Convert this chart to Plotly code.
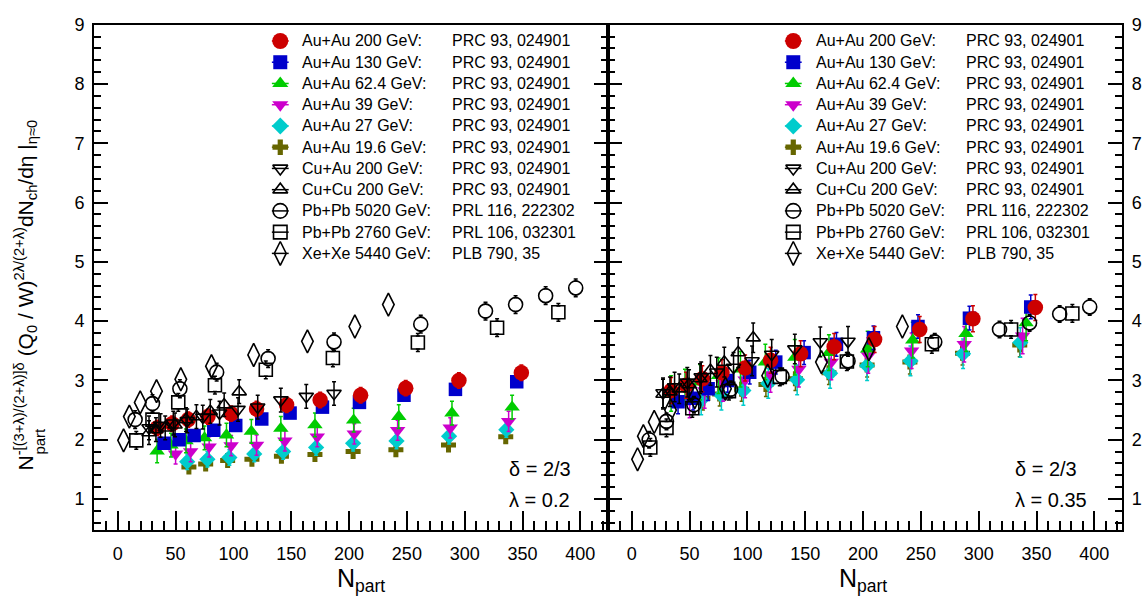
import plotly.graph_objects as go

W, H = 1142, 602

# ---------------- data ----------------
# N_part values per system (shared by both panels)
au200_np = [349, 295, 249, 210, 175, 146, 120, 98, 78, 61, 47, 34]
au130_np = [345, 292, 247.5, 209, 177, 149, 124.5, 102, 83, 66, 53, 40]
au62_np = [341, 289, 243, 204, 170.5, 141, 115.5, 94, 75, 59, 46, 34]
au39_np = [338, 287.5, 242, 204.5, 172.5, 144.5, 120, 98, 79, 63, 50]
au27_np = [336, 286.5, 241, 203.5, 171.5, 143, 118, 96.5, 77.5, 60]
au19_np = [335.5, 286, 240.5, 203.5, 170.5, 141.5, 116, 95, 76, 61.5]
cuau_np = [187, 163, 141, 121, 104, 88, 73.5, 60, 48, 37, 27]
cucu_np = [105, 92, 80, 68, 59, 49.5, 41, 33, 27]
pb5020_np = [396, 370, 344, 318, 262, 187, 130, 85.5, 53.7, 30, 15]
pb2760_np = [381, 328, 259.5, 186, 128, 84, 52.3, 30, 16]
xexe_np = [234, 205, 164, 117.5, 81, 54.5, 33.5, 19.4, 10, 5]

# left panel (lambda = 0.2)
au200_l = [3.13, 3.00, 2.87, 2.75, 2.67, 2.59, 2.52, 2.44, 2.39, 2.34, 2.27, 2.20]
au130_l = [2.98, 2.85, 2.75, 2.63, 2.55, 2.45, 2.35, 2.24, 2.16, 2.07, 2.00, 1.94]
au62_l = [2.55, 2.45, 2.39, 2.33, 2.25, 2.19, 2.14, 2.08, 2.03, 1.98, 1.91, 1.81]
au39_l = [2.31, 2.20, 2.16, 2.10, 2.05, 1.98, 1.91, 1.90, 1.88, 1.80, 1.76]
au27_l = [2.17, 2.06, 1.98, 1.94, 1.87, 1.80, 1.76, 1.70, 1.67, 1.63]
au19_l = [2.05, 1.91, 1.83, 1.80, 1.75, 1.72, 1.67, 1.65, 1.59, 1.54]
cuau_l = [2.78, 2.73, 2.67, 2.55, 2.51, 2.45, 2.38, 2.32, 2.28, 2.24, 2.20]
cucu_l = [2.81, 2.59, 2.48, 2.39, 2.34, 2.25, 2.20, 2.17, 2.12]
pb5020_l = [4.56, 4.43, 4.28, 4.17, 3.95, 3.65, 3.37, 3.14, 2.86, 2.61, 2.34]
pb2760_l = [4.15, 3.89, 3.64, 3.38, 3.18, 2.92, 2.63, 2.34, 1.99]
xexe_l = [4.28, 3.91, 3.66, 3.43, 3.24, 3.02, 2.82, 2.63, 2.39, 1.99]

# right panel (lambda = 0.35)
au200_r = [4.23, 4.04, 3.86, 3.69, 3.57, 3.45, 3.34, 3.21, 3.13, 3.03, 2.92, 2.83]
au130_r = [4.24, 4.05, 3.91, 3.72, 3.61, 3.47, 3.31, 3.14, 3.00, 2.86, 2.70, 2.64]
au62_r = [3.97, 3.79, 3.68, 3.53, 3.47, 3.39, 3.31, 3.19, 3.08, 2.97, 2.89, 2.78]
au39_r = [3.75, 3.61, 3.50, 3.42, 3.31, 3.19, 3.10, 3.01, 2.95, 2.83, 2.67]
au27_r = [3.64, 3.45, 3.33, 3.25, 3.12, 3.01, 2.95, 2.83, 2.75, 2.67]
au19_r = [3.60, 3.46, 3.31, 3.26, 3.13, 3.03, 2.93, 2.85, 2.77, 2.70]
cuau_r = [3.66, 3.65, 3.53, 3.44, 3.33, 3.22, 3.14, 3.06, 2.97, 2.89, 2.79]
cucu_r = [3.72, 3.47, 3.31, 3.17, 3.03, 2.93, 2.86, 2.81, 2.77]
pb5020_r = [4.24, 4.12, 3.97, 3.86, 3.65, 3.33, 3.07, 2.85, 2.59, 2.31, 2.00]
pb2760_r = [4.13, 3.86, 3.61, 3.32, 3.06, 2.82, 2.53, 2.20, 1.87]
xexe_r = [3.91, 3.53, 3.31, 3.08, 2.86, 2.72, 2.50, 2.30, 2.06, 1.67]

# uncertainties (left, right)
err_l = {"au200": 0.13, "au130": 0.08, "au62": 0.2, "au39": 0.17, "au27": 0.13,
         "au19": 0.1, "cuau": 0.2, "cucu": 0.2, "pb5020": 0.15, "pb2760": 0.15, "xexe": 0.0}
err_r = {"au200": 0.22, "au130": 0.2, "au62": 0.3, "au39": 0.3, "au27": 0.25,
         "au19": 0.2, "cuau": 0.25, "cucu": 0.25, "pb5020": 0.14, "pb2760": 0.15, "xexe": 0.0}

legend_names = ["Au+Au 200 GeV:", "Au+Au 130 GeV:", "Au+Au 62.4 GeV:", "Au+Au 39 GeV:",
                "Au+Au 27 GeV:", "Au+Au 19.6 GeV:", "Cu+Au 200 GeV:", "Cu+Cu 200 GeV:",
                "Pb+Pb 5020 GeV:", "Pb+Pb 2760 GeV:", "Xe+Xe 5440 GeV:"]
legend_refs = ["PRC 93, 024901"] * 8 + ["PRL 116, 222302", "PRL 106, 032301", "PLB 790, 35"]

x_ticks = [0, 50, 100, 150, 200, 250, 300, 350, 400]
y_ticks = [1, 2, 3, 4, 5, 6, 7, 8, 9]

# ---------------- styles ----------------
series = [
    # key, npart, left, right, symbol, color, size
    ("au200", au200_np, au200_l, au200_r, "circle", "#cc0000", 15.5),
    ("au130", au130_np, au130_l, au130_r, "square", "#0000cc", 13.5),
    ("au62", au62_np, au62_l, au62_r, "triangle-up", "#00cc00", 13.5),
    ("au39", au39_np, au39_l, au39_r, "triangle-down", "#cc00cc", 13.5),
    ("au27", au27_np, au27_l, au27_r, "diamond", "#00cccc", 12.5),
    ("au19", au19_np, au19_l, au19_r, "cross", "#666600", 12.5),
    ("cuau", cuau_np, cuau_l, cuau_r, "triangle-down-open", "black", 12.5),
    ("cucu", cucu_np, cucu_l, cucu_r, "triangle-up-open", "black", 12.5),
    ("pb5020", pb5020_np, pb5020_l, pb5020_r, "circle-open", "black", 14),
    ("pb2760", pb2760_np, pb2760_l, pb2760_r, "square-open", "black", 13),
    ("xexe", xexe_np, xexe_l, xexe_r, "diamond-tall-open", "black", 16.5),
]
draw_order = ["au19", "au27", "au39", "au62", "au130", "au200",
              "cuau", "cucu", "pb5020", "pb2760", "xexe"]
# series whose error bars are drawn outside the (hollow) marker only
gap_keys = {"pb5020", "pb2760"}
by_key = {s[0]: s for s in series}
PX_PER_UNIT = (529 - 15) / (9 - 0.474)

fig = go.Figure()

for panel, (xa, ya, errs) in enumerate([("x", "y", err_l), ("x2", "y2", err_r)]):
    for key in draw_order:
        k, npart, yl, yr_, sym, col, size = by_key[key]
        yv = yl if panel == 0 else yr_
        n = min(len(npart), len(yv))
        xs, ys = npart[:n], yv[:n]
        open_m = sym.endswith("open")
        e = errs[k]
        if k in gap_keys and e > 0:
            gap = (size / 2) / PX_PER_UNIT
            ext = max(e - gap, 0.01)
            blank = dict(size=1, color="rgba(0,0,0,0)")
            fig.add_trace(go.Scatter(
                x=xs, y=[v + gap for v in ys], xaxis=xa, yaxis=ya, mode="markers",
                showlegend=False, marker=blank, hoverinfo="skip",
                error_y=dict(type="data", symmetric=False, array=[ext] * n, arrayminus=[0] * n,
                             color=col, thickness=1.5, width=2)))
            fig.add_trace(go.Scatter(
                x=xs, y=[v - gap for v in ys], xaxis=xa, yaxis=ya, mode="markers",
                showlegend=False, marker=blank, hoverinfo="skip",
                error_y=dict(type="data", symmetric=False, array=[0] * n, arrayminus=[ext] * n,
                             color=col, thickness=1.5, width=2)))
            err_spec = dict(visible=False)
        else:
            err_spec = dict(type="constant", value=e, visible=e > 0,
                            color=col, thickness=1.5, width=2)
        fig.add_trace(go.Scatter(
            x=xs, y=ys, xaxis=xa, yaxis=ya, mode="markers",
            showlegend=False, cliponaxis=True,
            marker=dict(symbol=sym, size=size, color=col,
                        line=dict(width=1.6 if open_m else 0, color=col)),
            error_y=err_spec,
        ))

# ---------------- legend glyphs (pixel overlay axis) ----------------
row0, drow = 31.5, 21.6
for panel, gx in enumerate([283, 801]):
    for i, s in enumerate(series):
        _, _, _, _, sym, col, size = s
        open_m = sym.endswith("open")
        fig.add_trace(go.Scatter(
            x=[gx], y=[row0 + i * drow], xaxis="x3", yaxis="y3", mode="markers",
            showlegend=False, cliponaxis=False, hoverinfo="skip",
            marker=dict(symbol=sym, size=size + 0.5, color=col,
                        line=dict(width=1.6 if open_m else 0, color=col)),
            error_x=dict(type="constant", value=8.5, color=col, thickness=1.5, width=0),
        ))

annotations = []
font_leg = dict(family="Liberation Sans, Arial", size=16, color="black")
for panel, (tx, rx) in enumerate([(303, 454), (822, 973)]):
    for i in range(len(legend_names)):
        yy = 1 - (row0 + i * drow) / H
        annotations.append(dict(xref="paper", yref="paper", x=tx / W, y=yy, text=legend_names[i],
                                showarrow=False, xanchor="left", yanchor="middle", font=font_leg))
        annotations.append(dict(xref="paper", yref="paper", x=rx / W, y=yy, text=legend_refs[i],
                                showarrow=False, xanchor="left", yanchor="middle", font=font_leg))

font_txt = dict(family="Liberation Sans, Arial", size=20, color="black")
for x0, lam in [(512, "0.2"), (1023, "0.35")]:
    annotations.append(dict(xref="paper", yref="paper", x=x0 / W, y=1 - 467 / H, text="δ = 2/3",
                            showarrow=False, xanchor="left", yanchor="middle", font=font_txt))
    annotations.append(dict(xref="paper", yref="paper", x=x0 / W, y=1 - 498 / H, text="λ = " + lam,
                            showarrow=False, xanchor="left", yanchor="middle", font=font_txt))

# axis titles
font_title = dict(family="Liberation Sans, Arial", size=25, color="black")
for cx in [365, 871]:
    annotations.append(dict(xref="paper", yref="paper", x=cx / W, y=1 - 580 / H,
                            text="N<sub>part</sub>", showarrow=False, xanchor="center",
                            yanchor="middle", font=font_title))

# y title: main text plus stacked "part" subscript under the exponent
ytitle = ("N<sup>-[(3+λ)/(2+λ)]δ</sup> (Q<sub>0</sub> / W)<sup>2λ/(2+λ)</sup>"
          "dN<sub>ch</sub>/dη |<sub>η≈0</sub>")
annotations.append(dict(xref="paper", yref="paper", x=26 / W, y=1 - 470 / H, text=ytitle,
                        textangle=-90, showarrow=False, xanchor="center", yanchor="bottom",
                        font=dict(family="Liberation Sans, Arial", size=21, color="black")))
annotations.append(dict(xref="paper", yref="paper", x=40 / W, y=1 - 454 / H, text="part",
                        textangle=-90, showarrow=False, xanchor="center", yanchor="bottom",
                        font=dict(family="Liberation Sans, Arial", size=15, color="black")))

tickfont = dict(family="Liberation Sans, Arial", size=18, color="black")
xr = [-20.5, 424]
yr = [0.474, 9]
ydom = [(H - 529) / H, (H - 15) / H]

common_x = dict(range=xr, tickvals=x_ticks, ticks="inside", ticklen=19, tickwidth=1.5,
                tickcolor="black", showline=True, linecolor="black", linewidth=2, mirror=True,
                showgrid=False, zeroline=False, tickfont=tickfont, ticklabelstandoff=6,
                minor=dict(dtick=10, tick0=0, ticks="inside", ticklen=9, tickwidth=1.5,
                           tickcolor="black", showgrid=False))
common_y = dict(range=yr, domain=ydom, tickvals=y_ticks, ticks="inside", ticklen=14, tickwidth=1.5,
                tickcolor="black", showline=True, linecolor="black", linewidth=2, mirror="allticks",
                showgrid=False, zeroline=False, tickfont=tickfont, ticklabelstandoff=4,
                minor=dict(dtick=0.2, tick0=0, ticks="inside", ticklen=7, tickwidth=1.5,
                           tickcolor="black", showgrid=False))

fig.update_layout(
    width=W, height=H, margin=dict(l=0, r=0, t=0, b=0),
    paper_bgcolor="white", plot_bgcolor="rgba(0,0,0,0)",
    showlegend=False, hovermode=False,
    xaxis=dict(domain=[95 / W, 614 / W], anchor="y", **common_x),
    yaxis=dict(anchor="x", side="left", **common_y),
    xaxis2=dict(domain=[614 / W, 1133 / W], anchor="y2", **common_x),
    yaxis2=dict(anchor="x2", side="right", **common_y),
    xaxis3=dict(domain=[0, 1], range=[0, W], visible=False, anchor="y3"),
    yaxis3=dict(domain=[0, 1], range=[H, 0], visible=False, anchor="x3"),
    annotations=annotations,
)

fig.write_html("out.html", config={"displayModeBar": False},
               post_script="document.body.style.margin='0';document.body.style.padding='0';"
                           "document.documentElement.style.overflow='hidden';")
